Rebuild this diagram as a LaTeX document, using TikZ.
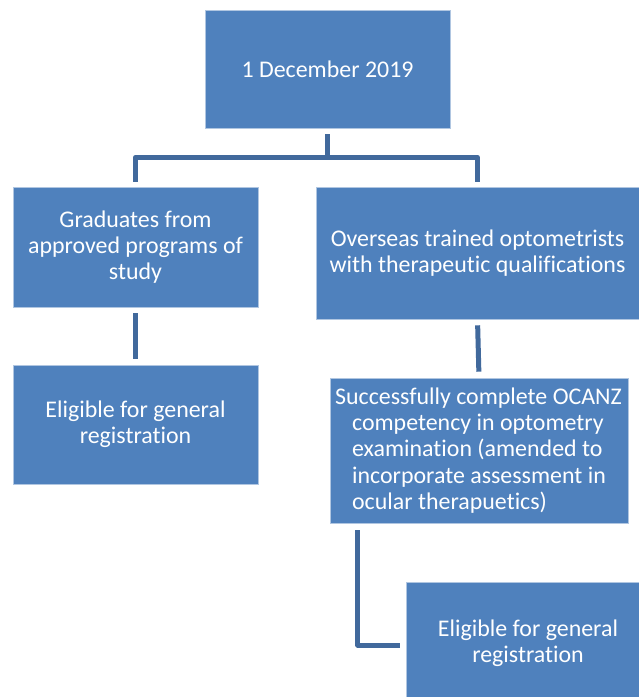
\documentclass[tikz,border=0pt]{standalone}
\usepackage{xcolor}
\usepackage{fontspec}
\setmainfont{Carlito}[Ligatures=NoCommon]
\usepackage{tikz}
\usetikzlibrary{positioning}
\usetikzlibrary{calc}
\definecolor{boxblue}{HTML}{4F81BD}
\definecolor{lineblue}{HTML}{41699C}
\tikzset{
	bloc/.style={rectangle,fill=boxblue,draw=white!55!boxblue,line width=0.6bp,text=white,align=center,inner sep=0pt,font=\fontsize{24}{26.3}\selectfont},
	lien/.style={draw=lineblue,line width=5bp,line join=round}
}

\begin{document}
\begin{tikzpicture}[x=1bp,y=-1bp]
				\useasboundingbox (0,0) rectangle (639,697); % same size as the page
				
				%Boites
				%haut
				\node[bloc,minimum width=245bp,minimum height=118bp] (top) at (327.5,69) {1 December 2019};
				%colonne gauche
				\node[bloc,minimum width=245bp,minimum height=120bp] (grad) at (135.5,247) {Graduates from\\approved programs of\\study};
				\node[bloc,minimum width=245bp,minimum height=119bp] (eligA) at (135.5,424.5) {Eligible for general\\registration};
				%colonne droite (les boites sortent de la page a droite)
				\node[bloc,minimum width=323bp,minimum height=132bp] (over) at (477.5,253) {Overseas trained optometrists\\with therapeutic qualifications};
				\node[bloc,minimum width=298bp,minimum height=145bp,align=left] (exam) at (479,450.5) {\makebox[240bp][l]{\hspace{-17bp}Successfully complete OCANZ}\\competency in optometry\\examination (amended to\\incorporate assessment in\\ocular therapuetics)};
				\node[bloc,minimum width=244bp,minimum height=123bp] (eligB) at (528,643.5) {Eligible for general\\registration};
				
				%Liens
				\coordinate (bus) at ($(top.south)+(0,29)$);
				\draw[lien,shorten <=6bp] (top.south) -- (bus);
				\draw[lien,shorten >=5bp] (bus) -| (grad.north);
				\draw[lien,shorten >=5bp] (bus) -| (over.north);
				\draw[lien,shorten <=6bp,shorten >=6bp] (grad.south) -- (eligA.north);
				\draw[lien,shorten <=6bp,shorten >=6bp] (over.south) -- (exam.north);
				\draw[lien,shorten <=7bp,shorten >=6bp] ([xshift=28bp]exam.south west) |- ([yshift=-1.5bp]eligB.west);
				
\end{tikzpicture}
\end{document}
